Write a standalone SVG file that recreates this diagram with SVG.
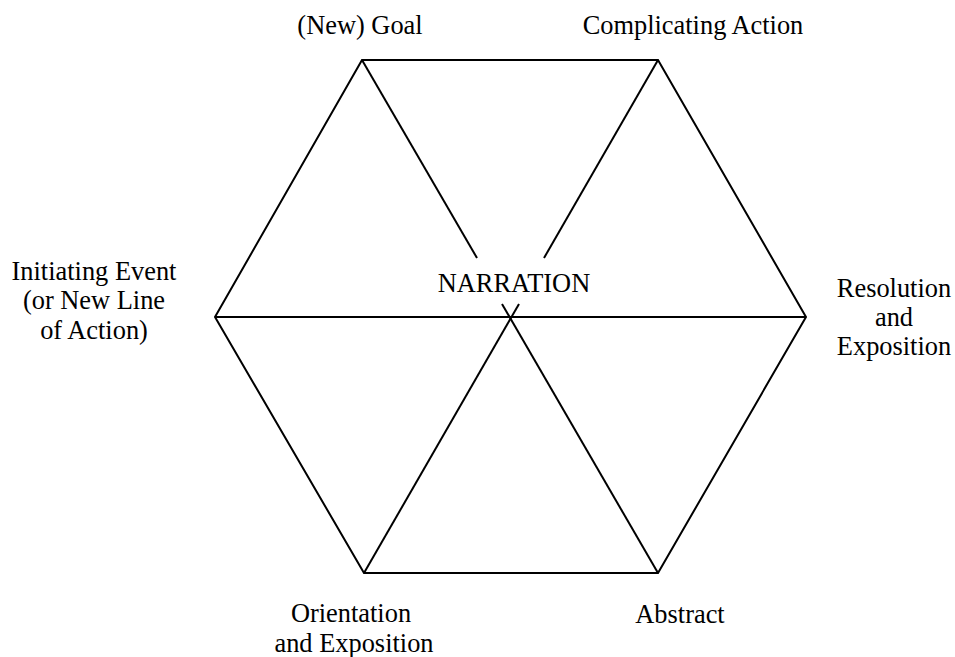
<svg xmlns="http://www.w3.org/2000/svg" width="955" height="657" viewBox="0 0 955 657">
  <style>
    .edge { stroke: #000; stroke-width: 2; fill: none; stroke-linecap: butt; stroke-linejoin: miter; }
    .label { font-family: 'Liberation Serif', 'Times New Roman', Times, 'DejaVu Serif', serif; font-size: 26.4px; fill: #000; text-anchor: middle; }
  </style>
  <rect width="955" height="657" fill="#fff"/>
  <g id="connectors">
    <!-- hexagon outline -->
    <polygon class="edge" points="362,60 658,60 806,317 658,573 364,573 215,317"/>
    <!-- spokes -->
    <line class="edge" x1="215" y1="317" x2="806" y2="317"/>
    <line class="edge" x1="362" y1="60" x2="477" y2="258"/>
    <line class="edge" x1="658" y1="60" x2="544" y2="258"/>
    <line class="edge" x1="364" y1="573" x2="519" y2="304"/>
    <line class="edge" x1="658" y1="573" x2="502" y2="304"/>
  </g>
  <g id="center">
    <text class="label" x="514" y="292">NARRATION</text>
  </g>
  <g id="goal">
    <text class="label" x="360" y="34">(New) Goal</text>
  </g>
  <g id="complicating">
    <text class="label" x="693" y="34">Complicating Action</text>
  </g>
  <g id="resolution">
    <text class="label" x="894" y="297">Resolution</text>
    <text class="label" x="894" y="326">and</text>
    <text class="label" x="894" y="355">Exposition</text>
  </g>
  <g id="abstract">
    <text class="label" x="680" y="623">Abstract</text>
  </g>
  <g id="orientation">
    <text class="label" x="351" y="622">Orientation</text>
    <text class="label" x="354" y="652">and Exposition</text>
  </g>
  <g id="initiating">
    <text class="label" x="94" y="280">Initiating Event</text>
    <text class="label" x="94" y="309">(or New Line</text>
    <text class="label" x="94" y="339">of Action)</text>
  </g>
</svg>
